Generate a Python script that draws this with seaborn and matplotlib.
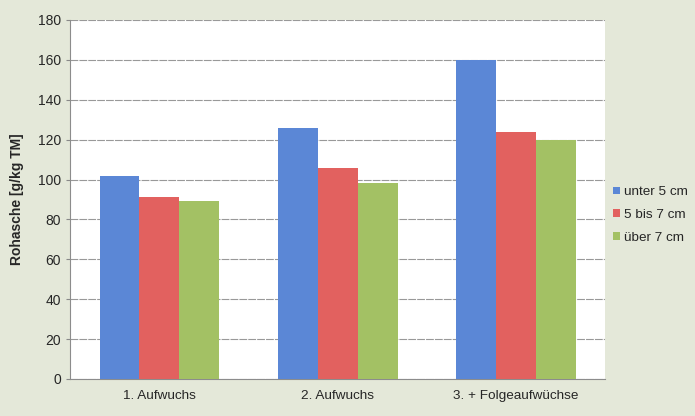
import pandas as pd
import seaborn as sns
import matplotlib.pyplot as plt

# values (g/kg TM)
categories = ['1. Aufwuchs', '2. Aufwuchs', '3. + Folgeaufwüchse']
groups = ['unter 5 cm', '5 bis 7 cm', 'über 7 cm']
unter_5 = [102, 126, 160]
bis_7 = [91, 106, 124]
ueber_7 = [89, 98.5, 120]
colors = ['#5b87d6', '#e2615f', '#a3c164']

df = pd.DataFrame({
    'Aufwuchs': categories * 3,
    'Gruppe': [g for g in groups for _ in categories],
    'Rohasche': unter_5 + bis_7 + ueber_7,
})

sns.set_style('white')
plt.rcParams['font.family'] = ['Liberation Sans', 'DejaVu Sans']

fig = plt.figure(figsize=(6.95, 4.16), dpi=100, facecolor='#e4e8d9')
ax = fig.add_axes([0.101, 0.089, 0.770, 0.863])
ax.set_facecolor('white')

sns.barplot(data=df, x='Aufwuchs', y='Rohasche', hue='Gruppe',
            palette=colors, width=0.67, gap=0, saturation=1,
            linewidth=0, ax=ax, zorder=3)

ax.set_ylim(0, 180)
ax.set_xlim(-0.5, 2.5)
ax.set_yticks(range(0, 181, 20))
ax.yaxis.grid(True, color='#999999', linewidth=0.8, linestyle=(0, (7, 1)), zorder=0)
ax.set_axisbelow(True)

ax.set_xlabel('')
ax.set_ylabel('Rohasche [g/kg TM]', fontsize=10, fontweight='bold', labelpad=10)
ax.tick_params(axis='y', labelsize=10, length=3, color='#888888', direction='out', left=True)
ax.tick_params(axis='x', labelsize=9.7, length=0, pad=8)

for s in ['top', 'right']:
    ax.spines[s].set_visible(False)
for s in ['left', 'bottom']:
    ax.spines[s].set_color('#8c8c8c')
    ax.spines[s].set_linewidth(0.8)

leg = ax.legend(loc='center left', bbox_to_anchor=(0.995, 0.457), frameon=False,
                fontsize=9.7, handlelength=0.45, handleheight=0.45,
                handletextpad=0.3, labelspacing=0.8, borderaxespad=0.4)

fig.savefig('out.png', dpi=100, facecolor=fig.get_facecolor())
